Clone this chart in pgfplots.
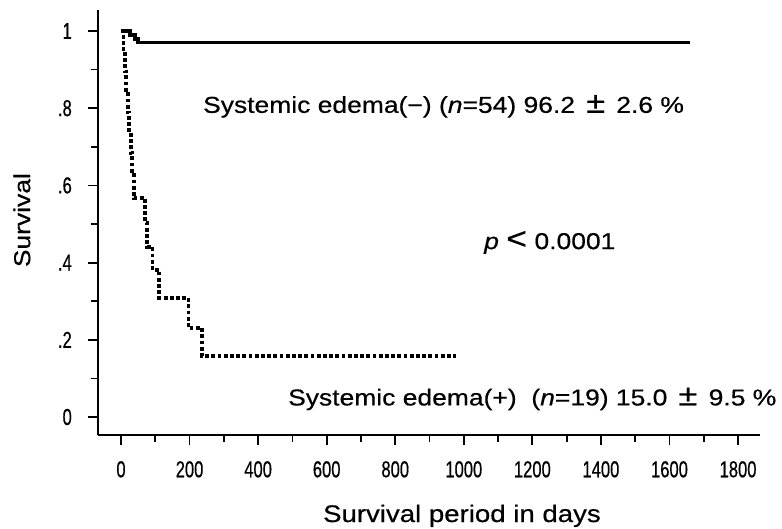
\documentclass[border=0pt]{standalone}
\usepackage{fontspec}
\usepackage{pgfplots}
\pgfplotsset{compat=1.18}
\newfontfamily\txtfont[FakeStretch=1.15, FakeBold=0.5]{Liberation Sans}
\newfontfamily\tickfont[FakeStretch=0.72, FakeBold=0.5]{Liberation Sans}
\newcommand\txt{\txtfont\fontsize{23bp}{26bp}\selectfont}

\begin{document}
\begin{tikzpicture}
\begin{axis}[
  scale only axis,
  width=662bp, height=425bp,
  xmin=-67.1, xmax=1864,
  ymin=-0.0466, ymax=1.0544,
  axis lines=left,
  axis line style={-, line width=2.4bp},
  tick align=outside,
  xtick={0,200,400,600,800,1000,1200,1400,1600,1800},
  xticklabels={0,200,400,600,800,1000,1200,1400,1600,1800},
  minor x tick num=1,
  ytick={0,0.2,0.4,0.6,0.8,1},
  yticklabels={0,.2,.4,.6,.8,1},
  minor y tick num=1,
  major tick length=10bp,
  minor tick length=7bp,
  every tick/.style={black, line width=1.8bp},
  xticklabel style={font=\tickfont\fontsize{23bp}{26bp}\selectfont, inner sep=0pt, anchor=north},
  yticklabel style={font=\tickfont\fontsize{23bp}{26bp}\selectfont, inner sep=0pt, anchor=east},
  xticklabel shift=16bp,
  yticklabel shift=16bp,
  clip=false,
]
% Systemic edema (-), n=54
\addplot[black, line width=3.6bp, line join=miter] coordinates {
  (0,1) (26,1) (26,0.99) (41,0.99) (41,0.98) (50,0.98) (50,0.97) (1660,0.97)
};
% Systemic edema (+), n=19
\addplot[black, line width=3.8bp, dash pattern=on 3.8bp off 2.4bp] coordinates {
  (0,1) (7,1) (7,0.947) (11,0.947) (11,0.895) (15,0.895) (15,0.842)
  (20,0.842) (20,0.789) (24,0.789) (24,0.737) (28,0.737) (28,0.684)
  (32,0.684) (32,0.632) (37,0.632) (37,0.567) (71,0.567) (71,0.502)
  (77,0.502) (77,0.441) (92,0.441) (92,0.381) (112,0.381) (112,0.308)
  (197,0.308) (197,0.230) (236,0.230) (236,0.158) (977,0.158)
};
\node[anchor=base west, inner sep=0pt, font=\txt]
  at (axis cs:239,0.788) {Systemic edema(−) (\textit{n}=54) 96.2 \,\scalebox{1.3}{±}\, 2.6 \%};
\node[anchor=base west, inner sep=0pt, font=\txt]
  at (axis cs:1059,0.435) {\textit{p} \scalebox{1.35}{<} 0.0001};
\node[anchor=base west, inner sep=0pt, font=\txt]
  at (axis cs:487,0.03) {Systemic edema(+) \ (\textit{n}=19) 15.0 \,\scalebox{1.3}{±}\, 9.5 \%};
\node[anchor=base west, inner sep=0pt, font=\txtfont\fontsize{24bp}{28bp}\selectfont]
  at (axis cs:589,-0.272) {Survival period in days};
\node[anchor=center, rotate=90, inner sep=0pt, font=\txtfont\fontsize{23bp}{26bp}\selectfont]
  at (axis cs:-289,0.51) {Survival};
\end{axis}
\pgfresetboundingbox
\path[use as bounding box] (current axis.south west) ++(-98bp,-94bp) rectangle ++(782bp,529bp);
\end{tikzpicture}
\end{document}
